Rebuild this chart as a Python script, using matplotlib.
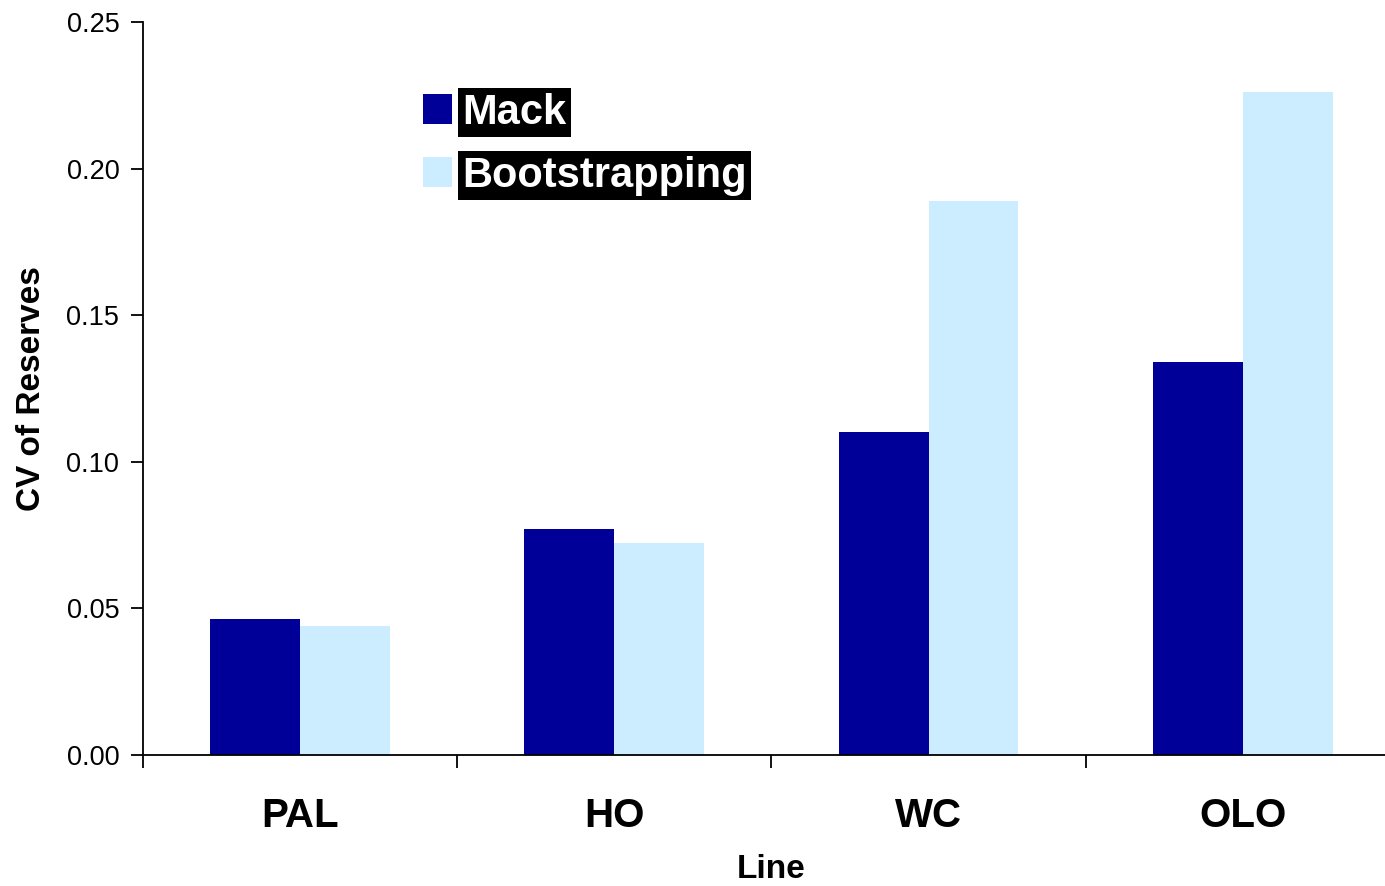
import matplotlib
matplotlib.use("Agg")
import matplotlib.pyplot as plt
import numpy as np

# CV of reserves per line of business
lines = ["PAL", "HO", "WC", "OLO"]
mack = [0.0464, 0.0771, 0.1102, 0.1340]
bootstrapping = [0.0440, 0.0723, 0.1890, 0.2261]
series_names = ["Mack", "Bootstrapping"]

plt.rcParams['font.family'] = ['Liberation Sans', 'DejaVu Sans']

fig = plt.figure(figsize=(13.85, 8.86), dpi=100)
ax = fig.add_axes([0.1032, 0.1479, 0.9076, 0.8273])

x = np.arange(len(lines))
width = 0.286
ax.bar(x - width / 2, mack, width, color="#000099", label=series_names[0])
ax.bar(x + width / 2, bootstrapping, width, color="#CCECFF", label=series_names[1])

ax.set_xlim(-0.5, len(lines) - 0.5)
ax.set_ylim(0, 0.25)
ax.set_yticks(np.arange(0, 0.251, 0.05))
ax.set_yticklabels([f"{v:.2f}" for v in np.arange(0, 0.251, 0.05)])

# category names centred, tick marks on the boundaries
ax.set_xticks(x)
ax.set_xticklabels(lines, fontsize=29, fontweight="bold")
ax.set_xticks(np.arange(-0.5, len(lines), 1.0), minor=True)
ax.tick_params(axis="x", which="major", length=0, pad=30)
ax.tick_params(axis="x", which="minor", length=9, width=1.3, direction="out")
ax.tick_params(axis="y", length=9, width=1.3, direction="out", labelsize=19.5, pad=8)

for side in ["top", "right"]:
    ax.spines[side].set_visible(False)
for side in ["left", "bottom"]:
    ax.spines[side].set_linewidth(1.3)

ax.set_xlabel("Line", fontsize=24, fontweight="bold", labelpad=14)
ax.set_ylabel("CV of Reserves", fontsize=24, fontweight="bold", labelpad=14)

leg = ax.legend(loc="upper left", bbox_to_anchor=(0.2902, 0.919),
                bbox_transform=fig.transFigure, frameon=False,
                prop={"size": 30, "weight": "bold"}, borderpad=0,
                handlelength=0.7, handleheight=0.7, handletextpad=0.25,
                labelspacing=0.55)
for t in leg.get_texts():
    t.set_color("white")
    t.set_bbox(dict(facecolor="black", edgecolor="none", pad=3))

fig.savefig("out.png", dpi=100)
